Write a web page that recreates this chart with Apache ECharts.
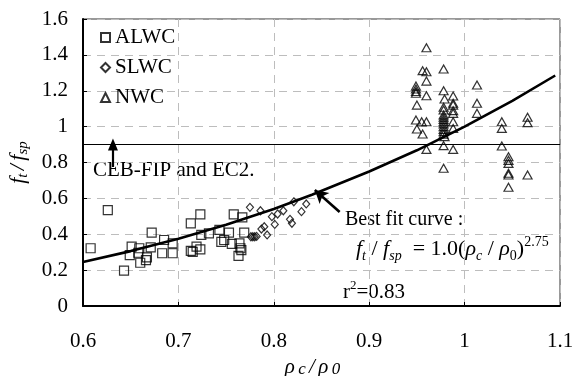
<!DOCTYPE html>
<html><head><meta charset="utf-8">
<script src="https://cdn.jsdelivr.net/npm/echarts@6/dist/echarts.min.js"></script>
<style>html,body{margin:0;padding:0;background:#fff}#c{width:577px;height:376px}</style>
</head><body><div id="c"></div>
<script>
// ---- data ----
const seriesNames = ['ALWC', 'SLWC', 'NWC'];
const xTicks = [0.6, 0.7, 0.8, 0.9, 1, 1.1];
const yTicks = [0, 0.2, 0.4, 0.6, 0.8, 1, 1.2, 1.4, 1.6];

const alwc = [
  [0.608,0.322],[0.626,0.535],[0.643,0.197],[0.651,0.331],[0.649,0.284],[0.659,0.322],
  [0.658,0.297],[0.660,0.241],[0.666,0.256],[0.667,0.271],[0.671,0.327],[0.672,0.409],
  [0.683,0.294],[0.685,0.368],[0.694,0.294],[0.694,0.349],[0.713,0.461],[0.713,0.307],
  [0.715,0.302],[0.719,0.331],[0.723,0.511],[0.723,0.316],[0.724,0.396],[0.732,0.405],
  [0.743,0.424],[0.745,0.358],[0.748,0.368],[0.753,0.409],[0.756,0.346],[0.758,0.511],
  [0.764,0.349],[0.763,0.279],[0.765,0.322],[0.766,0.312],[0.767,0.494],[0.769,0.409]
];
const slwc = [
  [0.775,0.550],[0.786,0.531],[0.776,0.386],[0.778,0.386],[0.780,0.386],[0.782,0.388],
  [0.787,0.429],[0.790,0.442],[0.793,0.396],[0.798,0.498],[0.801,0.455],[0.804,0.513],
  [0.810,0.531],[0.817,0.483],[0.819,0.461],[0.821,0.581],[0.829,0.526],[0.834,0.569]
];
const nwc = [
  [0.960,1.440],[0.956,1.312],[0.960,1.306],[0.978,1.321],[0.960,1.254],
  [0.949,1.226],[0.949,1.210],[0.949,1.196],[0.949,1.186],[0.960,1.172],[0.950,1.120],
  [0.978,1.200],[0.988,1.171],[0.979,1.154],[0.988,1.130],[0.988,1.120],
  [0.978,1.108],[0.978,1.093],[0.988,1.089],[0.988,1.074],
  [0.978,1.065],[0.978,1.052],[0.978,1.040],
  [0.949,1.037],[0.955,1.027],[0.960,1.027],
  [0.988,1.027],[0.978,1.027],[0.978,1.015],[0.978,1.000],
  [0.950,0.987],[0.956,0.959],[0.988,0.990],
  [0.978,0.985],[0.978,0.972],[0.978,0.958],[0.979,0.944],
  [0.960,0.873],[0.978,0.894],[0.988,0.873],[0.978,0.768],
  [1.013,1.232],[1.013,1.130],[1.013,1.074],
  [1.039,1.027],[1.039,0.990],[1.039,0.892],
  [1.046,0.832],[1.046,0.812],[1.046,0.795],[1.046,0.740],[1.046,0.730],[1.046,0.662],
  [1.066,1.052],[1.066,1.022],[1.066,0.730]
];
// best fit curve vertices as drawn
const fitCurve = [
  [0.60,0.245],[0.65,0.306],[0.70,0.375],[0.75,0.453],[0.80,0.541],[0.84,0.620],
  [0.90,0.750],[0.95,0.868],[1.00,1.000],[1.05,1.144],[1.095,1.285]
];
const codeLimit = 0.9;           // CEB-FIP and EC2 line
const cebArrow = [[0.6314,0.775],[0.6314,0.9]];
const fitArrow = [[0.869,0.524],[0.843,0.647]];

// ---- chart ----
const FONT = 'Liberation Serif';
const FS = 21;
const chart = echarts.init(document.getElementById('c'), null, {renderer:'canvas'});
const grid = {left:83, top:19, right:17, bottom:70, show:true, borderColor:'#333', borderWidth:1,
              containLabel:false, outerBoundsMode:'none'};
const hollow = {color:'rgba(0,0,0,0)', borderColor:'#000', borderWidth:1.2};

chart.setOption({
  animation:false,
  backgroundColor:'#fff',
  grid: grid,
  legend:{
    data: seriesNames, orient:'vertical', left:95, top:22, itemGap:9,
    itemWidth:9, itemHeight:9,
    textStyle:{fontFamily:FONT, fontSize:FS, color:'#000'}
  },
  xAxis:{
    type:'value', min:xTicks[0], max:xTicks[xTicks.length-1], interval:0.1,
    axisLine:{show:true, onZero:false, lineStyle:{color:'#000', width:2}},
    axisTick:{show:true, inside:true, length:4, lineStyle:{color:'#000'}},
    axisLabel:{fontFamily:FONT, fontSize:FS, color:'#000', margin:25,
      formatter:v=>String(+v.toFixed(1))},
    splitLine:{show:true, lineStyle:{color:'#bdbdbd', type:[8,6], width:1}},
    name:'{i|ρ} {s|c} {i|/} {i|ρ} {s|0}', nameLocation:'middle', nameGap:50,
    nameTextStyle:{padding:[0,18,0,0], rich:{
      i:{fontFamily:FONT, fontStyle:'italic', fontSize:21, color:'#000'},
      s:{fontFamily:FONT, fontStyle:'italic', fontSize:17, color:'#000', verticalAlign:'bottom', lineHeight:14}}}
  },
  yAxis:{
    type:'value', min:yTicks[0], max:yTicks[yTicks.length-1], interval:0.2,
    axisLine:{show:true, lineStyle:{color:'#000', width:2}},
    axisTick:{show:true, inside:true, length:4, lineStyle:{color:'#000'}},
    axisLabel:{fontFamily:FONT, fontSize:FS, color:'#000', margin:15,
      formatter:v=>String(+v.toFixed(1))},
    splitLine:{show:true, lineStyle:{color:'#bdbdbd', type:[8,6], width:1}},
    name:'{i|f}{s|t} {i|/} {i|f}{s|sp}', nameLocation:'middle', nameGap:50, nameRotate:90,
    nameTextStyle:{rich:{
      i:{fontFamily:FONT, fontStyle:'italic', fontSize:22, color:'#000', lineHeight:26},
      s:{fontFamily:FONT, fontStyle:'italic', fontSize:15, color:'#000', verticalAlign:'bottom', lineHeight:12}}}
  },
  series:[
    {name:seriesNames[0], type:'scatter', symbol:'rect', symbolSize:9, data:alwc, itemStyle:hollow, z:3},
    {name:seriesNames[1], type:'scatter', symbol:'diamond', symbolSize:[7,8], data:slwc, itemStyle:hollow, z:3},
    {name:seriesNames[2], type:'scatter', symbol:'triangle', symbolSize:[9,8], data:nwc, itemStyle:hollow, z:3},
    {name:'fit', type:'line', data:fitCurve, showSymbol:false, symbol:'none',
     lineStyle:{color:'#000', width:2.6}, z:4,
     markLine:{silent:true, animation:false, label:{show:false}, emphasis:{disabled:true},
       symbol:['none','none'],
       data:[
         [{coord:[xTicks[0],codeLimit], symbol:'none', lineStyle:{color:'#000', width:1.2, type:'solid'}},
          {coord:[xTicks[xTicks.length-1],codeLimit], symbol:'none'}],
         [{coord:cebArrow[0], symbol:'none', lineStyle:{color:'#000', width:2.2, type:'solid'}},
          {coord:cebArrow[1], symbol:'triangle', symbolSize:[10,12], symbolRotate:0}],
         [{coord:fitArrow[0], symbol:'none', lineStyle:{color:'#000', width:2.6, type:'solid'}},
          {coord:fitArrow[1], symbol:'arrow', symbolSize:[11,13]}]
       ]}
    }
  ],
  graphic:[
    {type:'text', left:93, top:160, style:{text:'CEB-FIP and EC2.', font:FS+'px "Liberation Serif"', fill:'#000'}},
    {type:'text', left:345, top:210, style:{text:'Best fit curve :', font:'20px "Liberation Serif"', fill:'#000'}},
    {type:'text', left:356, top:235, style:{
      text:'{i|f}{s|t}{n| / }{i|f}{s|sp}{n|  = 1.0(}{i|ρ}{s|c}{n| / }{i|ρ}{z|0}{n|)}{p|2.75}',
      rich:{
        n:{fontFamily:FONT, fontSize:22, fill:'#000', lineHeight:28},
        i:{fontFamily:FONT, fontStyle:'italic', fontSize:22, fill:'#000', lineHeight:28},
        s:{fontFamily:FONT, fontStyle:'italic', fontSize:14, fill:'#000', lineHeight:13, verticalAlign:'bottom'},
        z:{fontFamily:FONT, fontSize:14, fill:'#000', lineHeight:13, verticalAlign:'bottom'},
        p:{fontFamily:FONT, fontSize:14, fill:'#000', lineHeight:13, verticalAlign:'top'}
      }}},
    {type:'text', left:343, top:279, style:{
      text:'{n|r}{p|2}{n|=0.83}',
      rich:{
        n:{fontFamily:FONT, fontSize:FS, fill:'#000', lineHeight:26},
        p:{fontFamily:FONT, fontSize:13, fill:'#000', lineHeight:13, verticalAlign:'top'}
      }}}
  ]
});
</script></body></html>
